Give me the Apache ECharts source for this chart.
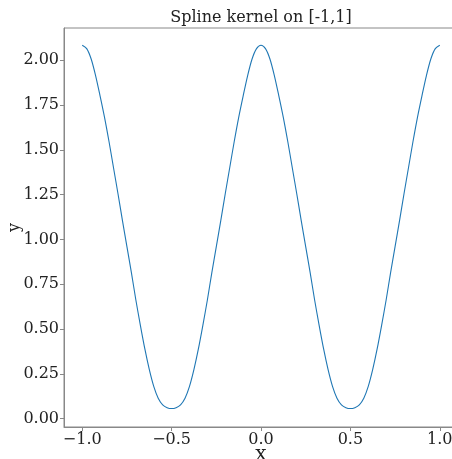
<!DOCTYPE html>
<html>
<head>
<meta charset="utf-8">
<script src="https://cdn.jsdelivr.net/npm/echarts@6/dist/echarts.min.js"></script>
<style>
  html, body { margin: 0; padding: 0; background: #fff; }
  #chart { width: 452px; height: 459px; }
</style>
</head>
<body>
<div id="chart"></div>
<script>
// Sample positions on [-1, 1]
const xValues = [
  -1.000, -0.975, -0.950, -0.925, -0.900, -0.875, -0.850, -0.825, -0.800, -0.775,
  -0.750, -0.725, -0.700, -0.675, -0.650, -0.625, -0.600, -0.575, -0.550, -0.525,
  -0.500, -0.475, -0.450, -0.425, -0.400, -0.375, -0.350, -0.325, -0.300, -0.275,
  -0.250, -0.225, -0.200, -0.175, -0.150, -0.125, -0.100, -0.075, -0.050, -0.025,
   0.000,  0.025,  0.050,  0.075,  0.100,  0.125,  0.150,  0.175,  0.200,  0.225,
   0.250,  0.275,  0.300,  0.325,  0.350,  0.375,  0.400,  0.425,  0.450,  0.475,
   0.500,  0.525,  0.550,  0.575,  0.600,  0.625,  0.650,  0.675,  0.700,  0.725,
   0.750,  0.775,  0.800,  0.825,  0.850,  0.875,  0.900,  0.925,  0.950,  0.975,
   1.000
];

// Kernel values at those positions
const yValues = [
  2.084, 2.065, 2.007, 1.913, 1.800, 1.680, 1.545, 1.400, 1.255, 1.105,
  0.960, 0.815, 0.662, 0.522, 0.390, 0.275, 0.180, 0.114, 0.077, 0.061,
  0.056, 0.061, 0.077, 0.114, 0.180, 0.275, 0.390, 0.522, 0.662, 0.815,
  0.960, 1.105, 1.255, 1.400, 1.545, 1.680, 1.800, 1.913, 2.007, 2.065,
  2.084, 2.065, 2.007, 1.913, 1.800, 1.680, 1.545, 1.400, 1.255, 1.105,
  0.960, 0.815, 0.662, 0.522, 0.390, 0.275, 0.180, 0.114, 0.077, 0.061,
  0.056, 0.061, 0.077, 0.114, 0.180, 0.275, 0.390, 0.522, 0.662, 0.815,
  0.960, 1.105, 1.255, 1.400, 1.545, 1.680, 1.800, 1.913, 2.007, 2.065,
  2.084
];

// Tick positions and their labels
const xTicks = [-1.0, -0.5, 0.0, 0.5, 1.0];
const xTickLabels = ['\u22121.0', '\u22120.5', '0.0', '0.5', '1.0'];
const yTicks = [0, 0.25, 0.5, 0.75, 1.0, 1.25, 1.5, 1.75, 2.0];
const yTickLabels = ['0.00', '0.25', '0.50', '0.75', '1.00', '1.25', '1.50', '1.75', '2.00'];

const titleText = 'Spline kernel on [-1,1]';
const xName = 'x';
const yName = 'y';

const points = xValues.map((x, i) => [x, yValues[i]]);
const FONT = 'DejaVu Serif';
const AXIS_GREY = '#888888';

function labelFor(ticks, labels) {
  return v => {
    const i = ticks.findIndex(t => Math.abs(t - v) < 1e-9);
    return i >= 0 ? labels[i] : '';
  };
}

const chart = echarts.init(document.getElementById('chart'), null, { renderer: 'canvas' });
chart.setOption({
  animation: false,
  backgroundColor: '#ffffff',
  title: {
    text: titleText,
    left: 256,
    top: 5,
    textAlign: 'center',
    textStyle: { fontFamily: FONT, fontSize: 16, fontWeight: 'normal', color: '#222' }
  },
  grid: {
    left: 64, top: 28, right: -6, bottom: 32,
    outerBoundsMode: 'none',
    containLabel: false,
    show: true, borderColor: AXIS_GREY, borderWidth: 1, backgroundColor: 'transparent'
  },
  xAxis: {
    type: 'value',
    min: -1.102, max: 1.102,
    name: xName,
    nameLocation: 'middle',
    nameGap: 18,
    nameMoveOverlap: false,
    nameTextStyle: { fontFamily: FONT, fontSize: 20, color: '#222' },
    splitLine: { show: false },
    axisLine: { show: true, onZero: false, lineStyle: { color: AXIS_GREY, width: 1 } },
    axisTick: { show: true, length: 4, customValues: xTicks, lineStyle: { color: AXIS_GREY } },
    axisLabel: {
      customValues: xTicks,
      formatter: labelFor(xTicks, xTickLabels),
      fontFamily: FONT, fontSize: 16, color: '#222', margin: 5
    }
  },
  yAxis: {
    type: 'value',
    min: -0.047, max: 2.180,
    name: yName,
    nameLocation: 'middle',
    nameGap: 41,
    nameMoveOverlap: false,
    nameTextStyle: { fontFamily: FONT, fontSize: 16, color: '#222' },
    splitLine: { show: false },
    axisLine: { show: true, onZero: false, lineStyle: { color: AXIS_GREY, width: 1 } },
    axisTick: { show: true, length: 4, customValues: yTicks, lineStyle: { color: AXIS_GREY } },
    axisLabel: {
      customValues: yTicks,
      formatter: labelFor(yTicks, yTickLabels),
      fontFamily: FONT, fontSize: 16, color: '#222', margin: 5
    }
  },
  series: [{
    type: 'line',
    data: points,
    showSymbol: false,
    smooth: 0.3,
    clip: false,
    lineStyle: { color: '#1f77b4', width: 1.1 }
  }]
});
</script>
</body>
</html>
